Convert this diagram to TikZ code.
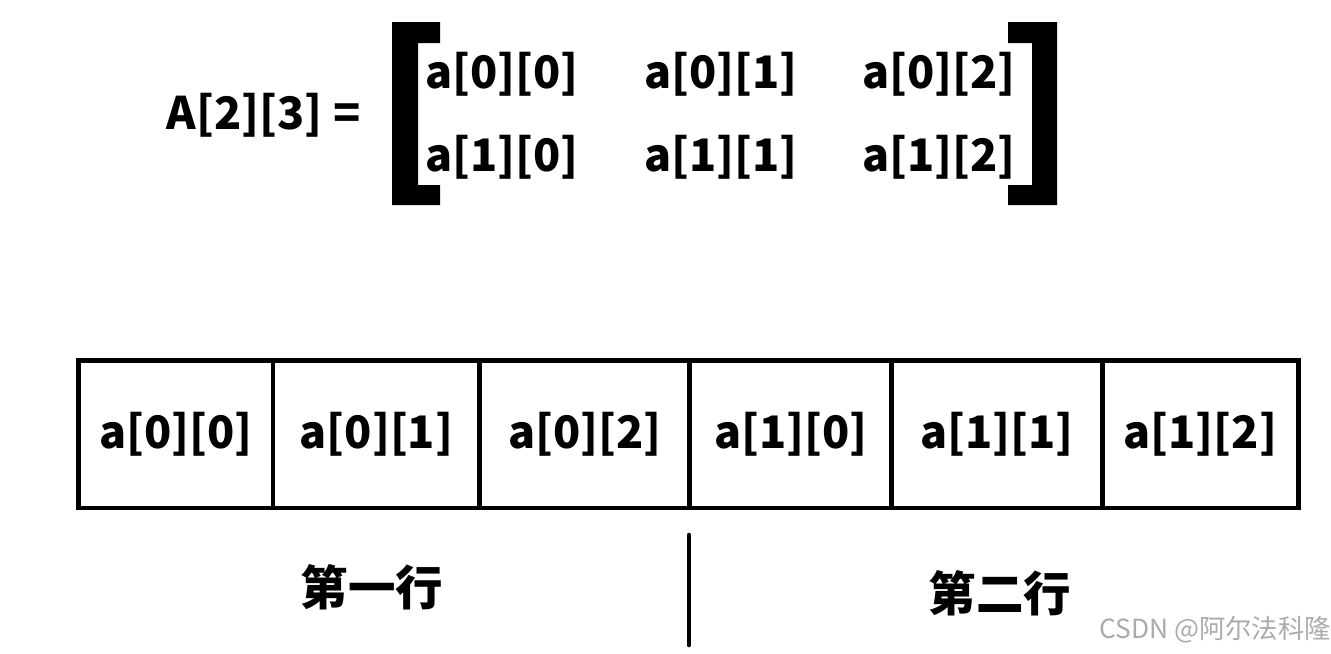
\documentclass[tikz,border=0pt]{standalone}
\usepackage{fontspec}
\setmainfont{Noto Sans CJK SC}
\usepackage{tikz}
\usetikzlibrary{positioning}

\tikzset{
  elem/.style={font=\fontsize{25.5}{30}\selectfont\bfseries, inner sep=0pt},
  celda/.style={draw, line width=2.8pt, inner sep=0pt, outer sep=0pt, minimum height=2.95cm, font=\fontsize{25.5}{30}\selectfont\bfseries},
  fila/.style={font=\fontsize{27}{32}\selectfont\bfseries, inner sep=0pt},
  marca/.style={font=\fontsize{15}{18}\selectfont, text=black!33, inner sep=0pt}
}

\begin{document}
\begin{tikzpicture}[x=0.02cm,y=-0.02cm]
        \useasboundingbox (0,0) rectangle (1331,653);
        % Matriz
        \node[elem] (A) at (264,115) {A[2][3]\hspace{0.25em}=};
        \fill (392,22) -- (440,22) -- (440,43) -- (418,43) -- (418,185) -- (440,185) -- (440,205) -- (392,205) -- cycle; % Corchete izquierdo
        \fill (1057,22) -- (1008,22) -- (1008,43) -- (1032,43) -- (1032,185) -- (1008,185) -- (1008,205) -- (1057,205) -- cycle; % Corchete derecho
        \node[elem] (m00) at (502,74) {a[0][0]};
        \node[elem] (m01) at (721,74) {a[0][1]};
        \node[elem] (m02) at (939,74) {a[0][2]};
        \node[elem] (m10) at (502,157) {a[1][0]};
        \node[elem] (m11) at (721,157) {a[1][1]};
        \node[elem] (m12) at (939,157) {a[1][2]};
        % Memoria
        \node[celda, minimum width=3.89cm, anchor=north west] (c00) at (78.5,360.5) {a[0][0]};
        \node[celda, minimum width=4.14cm, right=0pt of c00] (c01) {a[0][1]};
        \node[celda, minimum width=4.2cm, right=0pt of c01] (c02) {a[0][2]};
        \node[celda, minimum width=4.04cm, right=0pt of c02] (c10) {a[1][0]};
        \node[celda, minimum width=4.21cm, right=0pt of c10] (c11) {a[1][1]};
        \node[celda, minimum width=3.92cm, right=0pt of c11] (c12) {a[1][2]};
        % Línea vertical
        \coordinate (sa) at (689,535);
        \coordinate (sb) at (689,645);
        \draw[line width=2.6pt, line cap=round] (sa) -- (sb);
        \node[fila] (f1) at (372,587) {第一行};
        \node[fila] (f2) at (1000,593) {第二行};
        \node[marca] (csdn) at (1215,630) {CSDN @阿尔法科隆};
    \end{tikzpicture}
\end{document}
